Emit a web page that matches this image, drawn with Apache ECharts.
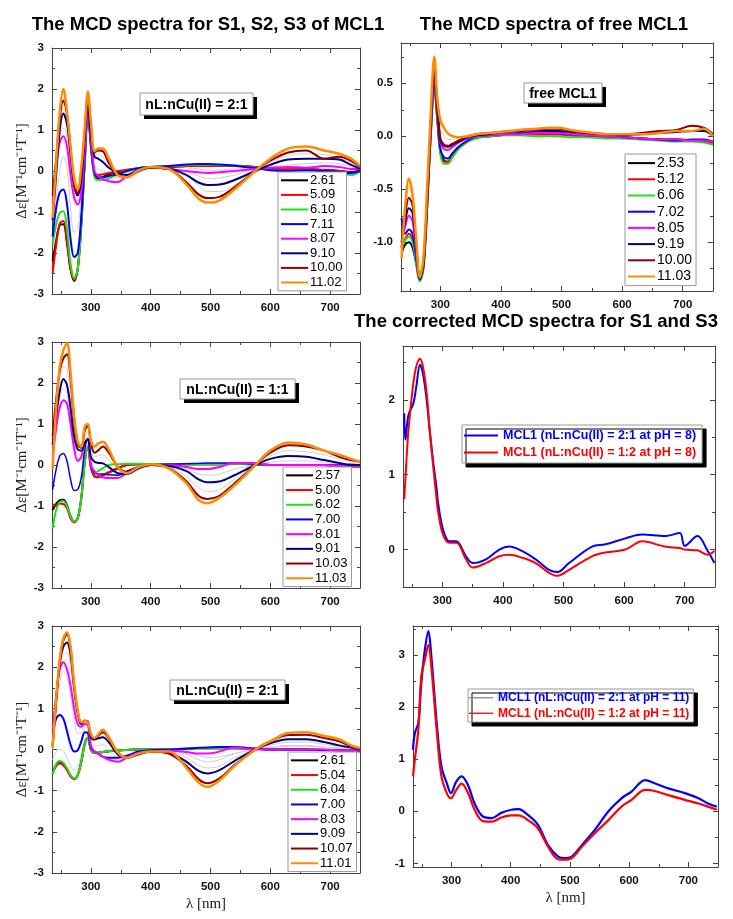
<!DOCTYPE html>
<html>
<head>
<meta charset="utf-8">
<script src="https://cdn.jsdelivr.net/npm/echarts@6/dist/echarts.min.js"></script>
<style>
html, body { margin: 0; background: #fff; }
#chart { width: 733px; height: 919px; }
</style>
</head>
<body>
<div id="chart"></div>
<script>
// wavelength grid (nm) shared by the three titration panels and the free ligand panel
const wl = [236, 242, 248, 254, 260, 266, 272, 278, 284, 290, 295, 300, 306, 312, 320, 330, 345, 360, 380, 400,
            430, 460, 480, 495, 515, 540, 575, 600, 630, 660, 690, 715, 735, 750]

// --- panel 1 : S1 (nL:nCu(II) = 2:1) ---
const tlNames = ['2.61', '5.09', '6.10', '7.11', '8.07', '9.10', '10.00', '11.02']
const tl_261 = [-2.2, -1.7, -1.32, -1.3, -1.75, -2.4, -2.68, -2.4, -1.3, 0.3, 1.5, 0.65, -0.1, -0.2, -0.15, -0.08, -0.03, 0.02, 0.07, 0.1, 0.1, 0.12, 0.12, 0.12, 0.13, 0.13, 0.1, 0.05, 0.03, 0.04, 0.02, 0.0, -0.03, 0.02]
const tl_509 = [-2.5, -1.8, -1.28, -1.22, -1.7, -2.38, -2.65, -2.38, -1.3, 0.3, 1.5, 0.65, -0.05, -0.1, -0.08, -0.05, 0.0, 0.03, 0.07, 0.1, 0.1, 0.12, 0.12, 0.12, 0.13, 0.13, 0.1, 0.05, 0.04, 0.05, 0.02, 0.0, -0.04, 0.02]
const tl_610 = [-1.8, -1.3, -1.02, -0.98, -1.4, -2.25, -2.62, -2.4, -1.3, 0.25, 1.45, 0.6, -0.15, -0.22, -0.22, -0.18, -0.08, 0.0, 0.07, 0.1, 0.12, 0.14, 0.15, 0.15, 0.14, 0.13, 0.08, 0.03, 0.0, 0.02, -0.02, -0.05, -0.1, -0.02]
const tl_711 = [-1.6, -0.9, -0.52, -0.45, -0.8, -1.65, -2.1, -2.0, -1.1, 0.4, 1.55, 0.65, -0.05, -0.15, -0.15, -0.12, -0.08, 0.0, 0.07, 0.1, 0.12, 0.16, 0.17, 0.17, 0.16, 0.13, 0.07, 0.02, 0.0, 0.02, 0.0, -0.02, -0.05, 0.0]
const tl_807 = [-0.8, 0.1, 0.7, 0.85, 0.6, -0.1, -0.65, -0.82, -0.5, 0.55, 1.5, 0.8, 0.0, -0.12, -0.2, -0.25, -0.27, -0.12, 0.02, 0.08, 0.05, 0.0, -0.03, -0.05, -0.03, 0.0, 0.05, 0.08, 0.1, 0.08, 0.12, 0.1, 0.05, 0.05]
const tl_910 = [-1.2, -0.1, 1.0, 1.4, 1.15, 0.4, -0.35, -0.6, -0.2, 0.9, 1.6, 0.9, 0.35, 0.3, 0.22, 0.08, -0.05, -0.1, 0.03, 0.08, 0.06, -0.1, -0.28, -0.34, -0.33, -0.22, 0.0, 0.15, 0.28, 0.3, 0.3, 0.28, 0.15, 0.05]
const tl_1000 = [-0.6, 0.3, 1.3, 1.72, 1.4, 0.55, -0.3, -0.55, 0.0, 1.0, 1.9, 1.1, 0.45, 0.5, 0.48, 0.2, -0.08, -0.15, 0.0, 0.08, 0.05, -0.28, -0.57, -0.66, -0.63, -0.4, 0.0, 0.25, 0.45, 0.5, 0.3, 0.35, 0.25, 0.1]
const tl_1102 = [-1.15, 0.2, 1.45, 2.0, 1.45, 0.6, -0.17, -0.45, 0.1, 1.1, 1.93, 1.2, 0.48, 0.55, 0.55, 0.3, -0.1, -0.15, 0.02, 0.1, 0.05, -0.33, -0.67, -0.77, -0.72, -0.45, 0.0, 0.3, 0.55, 0.6, 0.5, 0.42, 0.3, 0.12]
const tl_grayA = [-1.7, -0.7, 0.0, 0.35, 0.1, -0.9, -1.5, -1.4, -0.6, 0.5, 1.5, 0.6, -0.05, -0.15, -0.18, -0.2, -0.15, -0.05, 0.05, 0.1, 0.1, 0.08, 0.05, 0.02, 0.02, 0.05, 0.05, 0.05, 0.05, 0.06, 0.05, 0.02, 0.0, 0.0]
const tl_grayB = [-1.0, -0.1, 0.8, 1.05, 0.85, 0.1, -0.55, -0.75, -0.3, 0.7, 1.55, 0.75, 0.15, 0.05, 0.0, -0.08, -0.15, -0.1, 0.02, 0.08, 0.06, -0.02, -0.12, -0.18, -0.17, -0.1, 0.02, 0.1, 0.15, 0.18, 0.2, 0.18, 0.1, 0.04]
const tl_grayC = [-0.9, 0.1, 1.15, 1.55, 1.3, 0.45, -0.4, -0.58, -0.1, 0.85, 1.75, 0.85, 0.4, 0.4, 0.35, 0.15, -0.06, -0.12, 0.02, 0.08, 0.05, -0.1, -0.35, -0.5, -0.5, -0.35, 0.0, 0.2, 0.38, 0.42, 0.4, 0.32, 0.2, 0.06]

// --- panel 2 : free MCL1 ---
const trNames = ['2.53', '5.12', '6.06', '7.02', '8.05', '9.19', '10.00', '11.03']
const tr_253 = [-1.1, -1.02, -1.0, -1.05, -1.2, -1.36, -1.24, -0.68, 0.0, 0.48, 0.16, -0.15, -0.23, -0.24, -0.18, -0.11, -0.05, -0.01, 0.0, 0.01, 0.02, 0.02, 0.02, 0.02, 0.01, 0.0, -0.01, -0.01, -0.02, -0.03, -0.03, -0.04, -0.05, -0.06]
const tr_512 = [-1.05, -0.97, -0.92, -0.98, -1.18, -1.36, -1.24, -0.68, 0.0, 0.47, 0.16, -0.15, -0.24, -0.24, -0.18, -0.11, -0.05, -0.01, 0.0, 0.01, 0.02, 0.02, 0.02, 0.02, 0.01, 0.0, -0.01, -0.01, -0.02, -0.03, -0.03, -0.04, -0.05, -0.06]
const tr_606 = [-1.05, -0.98, -0.95, -1.0, -1.2, -1.37, -1.25, -0.7, 0.0, 0.45, 0.15, -0.17, -0.26, -0.26, -0.2, -0.12, -0.05, -0.02, 0.0, 0.01, 0.01, 0.0, 0.0, 0.0, -0.01, -0.01, -0.02, -0.02, -0.03, -0.04, -0.05, -0.05, -0.06, -0.08]
const tr_702 = [-0.77, -0.92, -0.88, -0.92, -1.15, -1.35, -1.22, -0.65, 0.05, 0.5, 0.2, -0.12, -0.2, -0.21, -0.16, -0.1, -0.04, 0.0, 0.01, 0.02, 0.03, 0.04, 0.04, 0.03, 0.02, 0.01, 0.0, -0.01, -0.02, -0.03, -0.04, -0.03, -0.03, -0.05]
const tr_805 = [-1.0, -0.85, -0.75, -0.8, -1.1, -1.33, -1.2, -0.62, 0.05, 0.55, 0.25, -0.06, -0.12, -0.13, -0.1, -0.06, -0.02, 0.0, 0.01, 0.02, 0.02, 0.03, 0.03, 0.03, 0.02, 0.01, 0.0, -0.01, -0.02, -0.03, -0.03, -0.04, -0.04, -0.05]
const tr_919 = [-1.0, -0.8, -0.68, -0.72, -1.05, -1.33, -1.2, -0.6, 0.1, 0.6, 0.3, -0.04, -0.09, -0.1, -0.08, -0.05, -0.01, 0.01, 0.02, 0.04, 0.05, 0.06, 0.05, 0.05, 0.04, 0.03, 0.02, 0.01, 0.02, 0.03, 0.04, 0.05, 0.05, 0.0]
const tr_1000 = [-1.05, -0.75, -0.58, -0.65, -1.0, -1.33, -1.2, -0.6, 0.1, 0.65, 0.3, -0.02, -0.08, -0.09, -0.07, -0.04, 0.0, 0.02, 0.03, 0.04, 0.05, 0.06, 0.07, 0.07, 0.05, 0.03, 0.02, 0.02, 0.03, 0.05, 0.06, 0.1, 0.08, 0.02]
const tr_1103 = [-1.15, -0.65, -0.4, -0.55, -0.97, -1.33, -1.15, -0.5, 0.2, 0.75, 0.35, 0.15, 0.08, 0.03, 0.0, -0.01, 0.0, 0.02, 0.03, 0.04, 0.06, 0.07, 0.08, 0.08, 0.06, 0.04, 0.02, 0.02, 0.02, 0.03, 0.05, 0.05, 0.07, 0.0]
const tr_grayA = [-1.1, -0.7, -0.48, -0.6, -0.98, -1.32, -1.17, -0.55, 0.15, 0.7, 0.32, 0.07, 0.0, -0.03, -0.03, -0.02, 0.0, 0.02, 0.03, 0.04, 0.05, 0.06, 0.07, 0.07, 0.05, 0.03, 0.02, 0.02, 0.02, 0.03, 0.04, 0.05, 0.05, 0.0]

// --- panel 3 : S2 (nL:nCu(II) = 1:1) ---
const mlNames = ['2.57', '5.00', '6.02', '7.00', '8.01', '9.01', '10.03', '11.03']
const ml_257 = [-1.1, -0.95, -0.86, -0.85, -0.98, -1.25, -1.38, -1.3, -0.8, 0.1, 0.45, -0.05, -0.28, -0.3, -0.25, -0.18, -0.08, 0.0, 0.02, 0.02, 0.02, 0.02, 0.02, 0.02, 0.02, 0.03, 0.02, 0.0, 0.0, 0.0, 0.0, -0.02, -0.03, -0.05]
const ml_500 = [-0.95, -1.0, -0.94, -0.95, -1.05, -1.3, -1.4, -1.3, -0.8, 0.1, 0.45, -0.05, -0.28, -0.3, -0.25, -0.18, -0.08, 0.0, 0.02, 0.02, 0.02, 0.02, 0.02, 0.02, 0.02, 0.03, 0.02, 0.0, 0.0, 0.0, 0.0, -0.02, -0.03, -0.05]
const ml_602 = [-1.55, -1.1, -0.9, -0.88, -1.0, -1.25, -1.38, -1.3, -0.8, 0.1, 0.45, 0.0, -0.2, -0.15, -0.08, 0.0, 0.02, 0.03, 0.03, 0.02, 0.02, 0.02, 0.02, 0.02, 0.02, 0.03, 0.02, 0.0, 0.0, 0.0, 0.0, -0.02, -0.03, -0.05]
const ml_700 = [-0.6, -0.1, 0.22, 0.28, 0.1, -0.35, -0.62, -0.6, -0.3, 0.4, 0.65, 0.0, -0.2, -0.22, -0.22, -0.24, -0.25, -0.15, -0.05, 0.0, 0.02, 0.03, 0.04, 0.05, 0.05, 0.05, 0.02, 0.0, 0.0, 0.0, 0.0, 0.0, 0.02, 0.0]
const ml_801 = [0.2, 0.9, 1.4, 1.58, 1.5, 1.0, 0.4, 0.1, 0.2, 0.55, 0.6, 0.0, -0.15, -0.25, -0.3, -0.32, -0.32, -0.2, -0.05, 0.0, 0.0, -0.05, -0.1, -0.1, -0.05, 0.05, 0.05, 0.0, 0.0, 0.0, 0.0, -0.02, -0.02, -0.05]
const ml_901 = [0.5, 1.2, 1.8, 2.1, 1.95, 1.4, 0.7, 0.38, 0.35, 0.55, 0.62, 0.2, 0.08, 0.05, 0.04, -0.05, -0.2, -0.22, -0.08, 0.0, -0.02, -0.15, -0.35, -0.42, -0.4, -0.25, 0.0, 0.15, 0.22, 0.2, 0.12, 0.05, 0.0, 0.0]
const ml_1003 = [0.7, 1.6, 2.3, 2.6, 2.7, 2.1, 1.1, 0.5, 0.42, 0.85, 0.95, 0.55, 0.3, 0.35, 0.45, 0.3, -0.05, -0.17, -0.05, 0.0, -0.07, -0.4, -0.75, -0.83, -0.75, -0.45, 0.0, 0.3, 0.48, 0.45, 0.35, 0.2, 0.12, 0.08]
const ml_1103 = [-0.1, 1.4, 2.4, 2.8, 2.97, 2.25, 1.2, 0.57, 0.45, 0.95, 1.0, 0.6, 0.45, 0.52, 0.57, 0.38, -0.05, -0.2, -0.05, 0.02, -0.08, -0.45, -0.85, -0.93, -0.8, -0.5, 0.0, 0.35, 0.55, 0.5, 0.35, 0.25, 0.15, 0.08]
const ml_grayA = [0.3, 1.1, 1.65, 1.85, 1.75, 1.2, 0.55, 0.25, 0.28, 0.55, 0.6, 0.1, -0.05, -0.1, -0.12, -0.18, -0.25, -0.2, -0.06, 0.0, 0.0, -0.1, -0.22, -0.25, -0.22, -0.1, 0.0, 0.07, 0.1, 0.1, 0.06, 0.02, 0.0, -0.02]
const ml_grayB = [0.55, 1.4, 2.1, 2.4, 2.35, 1.75, 0.9, 0.45, 0.4, 0.7, 0.8, 0.4, 0.2, 0.22, 0.25, 0.12, -0.12, -0.2, -0.06, 0.0, -0.04, -0.28, -0.55, -0.65, -0.6, -0.35, 0.0, 0.22, 0.35, 0.32, 0.25, 0.14, 0.08, 0.04]

// --- panel 5 : S3 (nL:nCu(II) = 2:1) ---
const blNames = ['2.61', '5.04', '6.04', '7.00', '8.03', '9.09', '10.07', '11.01']
const bl_261 = [-0.55, -0.38, -0.32, -0.36, -0.48, -0.64, -0.71, -0.62, -0.3, 0.15, 0.28, 0.0, -0.08, -0.08, -0.06, -0.04, -0.02, -0.01, 0.0, 0.0, 0.01, 0.02, 0.03, 0.03, 0.03, 0.03, 0.02, 0.0, 0.0, 0.0, -0.01, -0.02, -0.03, -0.04]
const bl_504 = [-0.6, -0.4, -0.34, -0.38, -0.5, -0.65, -0.72, -0.63, -0.3, 0.15, 0.28, 0.0, -0.08, -0.08, -0.06, -0.04, -0.02, -0.01, 0.0, 0.0, 0.01, 0.02, 0.03, 0.03, 0.03, 0.03, 0.02, 0.0, 0.0, 0.0, -0.01, -0.02, -0.03, -0.04]
const bl_604 = [-0.6, -0.35, -0.28, -0.32, -0.45, -0.62, -0.7, -0.62, -0.3, 0.15, 0.28, 0.0, -0.08, -0.08, -0.06, -0.04, -0.02, -0.01, 0.0, 0.0, 0.01, 0.02, 0.03, 0.03, 0.03, 0.03, 0.02, 0.0, 0.0, 0.0, -0.01, -0.02, -0.03, -0.04]
const bl_700 = [0.4, 0.75, 0.84, 0.75, 0.45, 0.12, -0.05, -0.02, 0.2, 0.42, 0.4, 0.05, -0.05, -0.1, -0.18, -0.2, -0.2, -0.15, -0.05, -0.02, 0.0, 0.02, 0.04, 0.05, 0.06, 0.06, 0.02, 0.0, 0.0, 0.0, -0.02, -0.02, -0.02, -0.03]
const bl_803 = [0.45, 1.3, 1.95, 2.12, 1.95, 1.55, 1.0, 0.62, 0.55, 0.62, 0.6, 0.1, -0.05, -0.1, -0.17, -0.25, -0.3, -0.2, -0.08, -0.05, -0.03, -0.06, -0.1, -0.1, -0.05, 0.05, 0.0, 0.0, 0.0, 0.0, 0.0, -0.02, -0.02, -0.03]
const bl_909 = [0.1, 1.2, 2.1, 2.5, 2.6, 2.3, 1.5, 0.9, 0.62, 0.7, 0.68, 0.3, 0.24, 0.27, 0.3, 0.18, -0.12, -0.2, -0.12, -0.05, -0.08, -0.3, -0.52, -0.58, -0.5, -0.28, 0.0, 0.15, 0.25, 0.25, 0.18, 0.1, 0.05, 0.0]
const bl_1007 = [0.05, 1.2, 2.15, 2.65, 2.8, 2.45, 1.55, 0.92, 0.65, 0.7, 0.65, 0.37, 0.27, 0.33, 0.42, 0.27, -0.07, -0.2, -0.1, -0.05, -0.1, -0.4, -0.72, -0.82, -0.7, -0.38, 0.0, 0.2, 0.35, 0.36, 0.28, 0.2, 0.08, 0.03]
const bl_1101 = [0.05, 1.25, 2.2, 2.7, 2.85, 2.5, 1.6, 0.95, 0.66, 0.7, 0.65, 0.38, 0.28, 0.36, 0.48, 0.3, -0.07, -0.2, -0.1, -0.05, -0.05, -0.45, -0.8, -0.91, -0.75, -0.4, 0.0, 0.2, 0.4, 0.42, 0.33, 0.25, 0.1, 0.03]
const bl_grayA = [-0.25, -0.05, 0.0, -0.05, -0.2, -0.4, -0.5, -0.42, -0.1, 0.25, 0.32, 0.0, -0.06, -0.08, -0.08, -0.06, -0.04, -0.02, 0.0, 0.0, 0.0, -0.05, -0.15, -0.2, -0.18, -0.1, 0.0, 0.05, 0.08, 0.08, 0.05, 0.02, 0.0, -0.02]
const bl_grayB = [0.0, 0.9, 1.6, 1.9, 1.75, 1.3, 0.75, 0.4, 0.4, 0.55, 0.55, 0.05, -0.05, -0.12, -0.18, -0.22, -0.25, -0.18, -0.06, -0.03, -0.03, -0.12, -0.25, -0.3, -0.25, -0.1, 0.0, 0.05, 0.1, 0.1, 0.06, 0.03, 0.0, -0.02]
const bl_grayC = [0.2, 1.1, 1.9, 2.3, 2.35, 2.0, 1.3, 0.8, 0.6, 0.65, 0.62, 0.2, 0.1, 0.1, 0.12, 0.0, -0.2, -0.2, -0.1, -0.05, -0.05, -0.2, -0.38, -0.45, -0.4, -0.2, 0.0, 0.1, 0.18, 0.18, 0.12, 0.06, 0.03, 0.0]

// --- panel 4 : corrected spectra, pH 8 ---
const mrWl = [237, 239, 244, 252, 257, 263, 268, 274, 279, 285, 290, 293, 301, 312, 323, 339, 350, 372, 394, 410,
              432, 454, 476, 490, 509, 547, 569, 602, 630, 667, 692, 700, 721, 738, 749]
const mr_21 = [1.82, 1.47, 1.8, 1.95, 2.18, 2.47, 2.35, 2.0, 1.6, 1.16, 0.85, 0.62, 0.27, 0.11, 0.11, -0.09, -0.18, -0.13, 0.0, 0.04,
               -0.02, -0.13, -0.27, -0.3, -0.18, 0.04, 0.07, 0.15, 0.2, 0.18, 0.22, 0.05, 0.18, -0.02, -0.18]
const mr_12 = [0.67, 0.95, 1.6, 2.22, 2.45, 2.55, 2.44, 2.1, 1.6, 1.1, 0.71, 0.5, 0.2, 0.09, 0.09, -0.13, -0.24, -0.18, -0.09, -0.07,
               -0.11, -0.18, -0.31, -0.35, -0.27, -0.09, -0.04, 0.0, 0.11, 0.04, 0.02, 0.0, -0.01, -0.07, -0.02]

// --- panel 6 : corrected spectra, pH 11 ---
const brWl = [235, 238, 244, 249, 255, 261, 266, 275, 283, 292, 299, 308, 317, 328, 339, 353, 368, 384, 401, 413,
              429, 446, 463, 480, 491, 503, 520, 542, 565, 587, 604, 627, 643, 666, 694, 717, 733, 748]
const br_21 = [1.18, 1.5, 1.7, 2.46, 3.1, 3.46, 2.97, 1.7, 0.86, 0.54, 0.35, 0.57, 0.67, 0.5, 0.15, -0.1, -0.13, -0.03, 0.03, 0.04,
               -0.07, -0.26, -0.65, -0.87, -0.9, -0.87, -0.65, -0.36, 0.0, 0.25, 0.38, 0.6, 0.54, 0.44, 0.35, 0.25, 0.15, 0.09]
const br_12 = [0.67, 0.99, 1.56, 2.59, 2.91, 3.2, 2.78, 1.56, 0.67, 0.35, 0.25, 0.41, 0.53, 0.35, 0.03, -0.19, -0.2, -0.12, -0.08, -0.08,
               -0.17, -0.33, -0.68, -0.92, -0.93, -0.9, -0.68, -0.42, -0.17, 0.09, 0.22, 0.41, 0.39, 0.31, 0.22, 0.15, 0.09, 0.03]

// tick values
const xMajor = [300, 400, 500, 600, 700]
const xMinor = [250, 350, 450, 550, 650, 750]
const yMajor3 = [-3, -2, -1, 0, 1, 2, 3]
const yMinor3 = [-2.5, -1.5, -0.5, 0.5, 1.5, 2.5]
const yMajorFree = [-1, -0.5, 0, 0.5]
const yMinorFree = [-1.25, -0.75, -0.25, 0.25, 0.75]
const yMajorPH8 = [0, 1, 2]
const yMinorPH8 = [-0.5, 0.5, 1.5, 2.5]
const yMajorPH11 = [-1, 0, 1, 2, 3]
const yMinorPH11 = [-0.5, 0.5, 1.5, 2.5, 3.5]

const phColors = ['#000000', '#ff0000', '#1ee01e', '#0000ff', '#ff00ff', '#000080', '#8b0000', '#ff8c00']
const grayColor = '#cfcfcf'
const sans = 'Liberation Sans, Arial, sans-serif'
const serif = 'Liberation Serif, Times New Roman, serif'
const yName = 'Δε[M⁻¹cm⁻¹T⁻¹]'

const panels = [
    { grid: { left: 52, top: 48, width: 308, height: 246 }, ymin: -3, ymax: 3, yMaj: yMajor3, yMin: yMinor3, yFmt: v => String(v), yName: true, xName: false },
    { grid: { left: 401, top: 43, width: 312, height: 248 }, ymin: -1.46, ymax: 0.88, yMaj: yMajorFree, yMin: yMinorFree, yFmt: v => v.toFixed(1), yName: false, xName: false },
    { grid: { left: 52, top: 342, width: 308, height: 246 }, ymin: -3, ymax: 3, yMaj: yMajor3, yMin: yMinor3, yFmt: v => String(v), yName: true, xName: false },
    { grid: { left: 403, top: 346, width: 312, height: 241 }, ymin: -0.5, ymax: 2.72, yMaj: yMajorPH8, yMin: yMinorPH8, yFmt: v => String(v), yName: false, xName: false },
    { grid: { left: 52, top: 626, width: 308, height: 247 }, ymin: -3, ymax: 3, yMaj: yMajor3, yMin: yMinor3, yFmt: v => String(v), yName: true, xName: true },
    { grid: { left: 413, top: 626, width: 305, height: 241 }, ymin: -1.07, ymax: 3.56, yMaj: yMajorPH11, yMin: yMinorPH11, yFmt: v => String(v), yName: false, xName: true }
]

const frame = { color: '#444', width: 1 }
const labelStyle = { color: '#111', fontFamily: sans, fontWeight: 'bold', fontSize: 11.5 }

const xAxes = []
const yAxes = []
panels.forEach((p, gi) => {
    const xb = { type: 'value', gridIndex: gi, min: 235, max: 750, splitLine: { show: false } }
    const yb = { type: 'value', gridIndex: gi, min: p.ymin, max: p.ymax, splitLine: { show: false } }
    // bottom, with labels
    xAxes.push(Object.assign({}, xb, {
        position: 'bottom',
        axisLine: { show: true, onZero: false, lineStyle: frame },
        axisTick: { inside: true, length: 5, customValues: xMajor, lineStyle: frame },
        axisLabel: Object.assign({ customValues: xMajor, margin: 8 }, labelStyle),
        name: p.xName ? 'λ [nm]' : '',
        nameLocation: 'middle',
        nameGap: 24,
        nameTextStyle: { fontFamily: serif, fontSize: 15, color: '#222' }
    }))
    xAxes.push(Object.assign({}, xb, {
        position: 'bottom', axisLine: { show: false, onZero: false },
        axisTick: { inside: true, length: 3, customValues: xMinor, lineStyle: frame },
        axisLabel: { show: false }
    }))
    xAxes.push(Object.assign({}, xb, {
        position: 'top', axisLine: { show: true, onZero: false, lineStyle: frame },
        axisTick: { inside: true, length: 5, customValues: xMajor, lineStyle: frame },
        axisLabel: { show: false }
    }))
    xAxes.push(Object.assign({}, xb, {
        position: 'top', axisLine: { show: false, onZero: false },
        axisTick: { inside: true, length: 3, customValues: xMinor, lineStyle: frame },
        axisLabel: { show: false }
    }))
    // left, with labels
    yAxes.push(Object.assign({}, yb, {
        position: 'left',
        axisLine: { show: true, onZero: false, lineStyle: frame },
        axisTick: { inside: true, length: 5, customValues: p.yMaj, lineStyle: frame },
        axisLabel: Object.assign({ customValues: p.yMaj, margin: 8, formatter: p.yFmt }, labelStyle),
        name: p.yName ? yName : '',
        nameLocation: 'middle',
        nameGap: 21,
        nameTextStyle: { fontFamily: serif, fontSize: 15, color: '#222' }
    }))
    yAxes.push(Object.assign({}, yb, {
        position: 'left', axisLine: { show: false, onZero: false },
        axisTick: { inside: true, length: 3, customValues: p.yMin, lineStyle: frame },
        axisLabel: { show: false }
    }))
    yAxes.push(Object.assign({}, yb, {
        position: 'right', axisLine: { show: true, onZero: false, lineStyle: frame },
        axisTick: { inside: true, length: 5, customValues: p.yMaj, lineStyle: frame },
        axisLabel: { show: false }
    }))
    yAxes.push(Object.assign({}, yb, {
        position: 'right', axisLine: { show: false, onZero: false },
        axisTick: { inside: true, length: 3, customValues: p.yMin, lineStyle: frame },
        axisLabel: { show: false }
    }))
})

const pairs = (xs, ys) => xs.map((x, i) => [x, ys[i]])

const lineSeries = (gi, name, xs, ys, color, width) => ({
    type: 'line',
    name: name,
    xAxisIndex: gi * 4,
    yAxisIndex: gi * 4,
    data: pairs(xs, ys),
    smooth: 0.35,
    symbol: 'none',
    lineStyle: { color: color, width: width },
    itemStyle: { color: color },
    z: 3
})

const grayLine = (gi, xs, ys) => Object.assign(lineSeries(gi, '', xs, ys, grayColor, 1), { z: 2, silent: true })

const series = []
// titration panels: gray intermediate spectra first, then coloured ones
;[tl_grayA, tl_grayB, tl_grayC].forEach(d => series.push(grayLine(0, wl, d)))
;[tl_261, tl_509, tl_610, tl_711, tl_807, tl_910, tl_1000, tl_1102].forEach((d, i) =>
    series.push(lineSeries(0, tlNames[i], wl, d, phColors[i], i === 7 ? 2.5 : 2)))

series.push(grayLine(1, wl, tr_grayA))
;[tr_253, tr_512, tr_606, tr_702, tr_805, tr_919, tr_1000, tr_1103].forEach((d, i) =>
    series.push(lineSeries(1, trNames[i], wl, d, phColors[i], i === 7 ? 2.5 : 2)))

;[ml_grayA, ml_grayB].forEach(d => series.push(grayLine(2, wl, d)))
;[ml_257, ml_500, ml_602, ml_700, ml_801, ml_901, ml_1003, ml_1103].forEach((d, i) =>
    series.push(lineSeries(2, mlNames[i], wl, d, phColors[i], i === 7 ? 2.5 : (i === 3 ? 1.5 : 2))))

series.push(lineSeries(3, 'MCL1 (nL:nCu(II) = 2:1 at pH = 8)', mrWl, mr_21, '#0000ff', 2))
series.push(lineSeries(3, 'MCL1 (nL:nCu(II) = 1:2 at pH = 8)', mrWl, mr_12, '#ff0000', 2))

;[bl_grayA, bl_grayB, bl_grayC].forEach(d => series.push(grayLine(4, wl, d)))
;[bl_261, bl_504, bl_604, bl_700, bl_803, bl_909, bl_1007, bl_1101].forEach((d, i) =>
    series.push(lineSeries(4, blNames[i], wl, d, phColors[i], i === 7 ? 2.5 : 2)))

series.push(lineSeries(5, 'MCL1 (nL:nCu(II) = 2:1 at pH = 11)', brWl, br_21, '#0000ff', 2.2))
series.push(lineSeries(5, 'MCL1 (nL:nCu(II) = 1:2 at pH = 11)', brWl, br_12, '#ff0000', 2.2))

const phLegend = (names, left, top, lh, size) => ({
    data: names,
    orient: 'vertical',
    left: left,
    top: top,
    icon: 'rect',
    itemWidth: 27,
    itemHeight: 2,
    itemGap: 0,
    padding: [1, 4, 1, 3],
    backgroundColor: '#fff',
    borderColor: '#999',
    borderWidth: 1,
    borderRadius: 0,
    selectedMode: false,
    textStyle: { fontFamily: sans, fontSize: size, lineHeight: lh, color: '#000', padding: [0, 0, 0, -3] }
})

const compLegend = (names, left, top, lh, thin) => ({
    data: [
        { name: names[0], textStyle: { color: '#0000ff' }, itemStyle: { color: thin ? '#888888' : '#0000ff' } },
        { name: names[1], textStyle: { color: '#ff0000' }, itemStyle: { color: '#ff0000' } }
    ],
    orient: 'vertical',
    left: left,
    top: top,
    icon: 'rect',
    itemWidth: thin ? 24 : 34,
    itemHeight: thin ? 1.3 : 2.2,
    itemGap: 0,
    padding: thin ? [1, 4, 1, 1] : [2, 6, 2, 2],
    backgroundColor: '#fff',
    borderColor: '#999',
    borderWidth: 1,
    borderRadius: 0,
    shadowColor: '#000',
    shadowOffsetX: 4,
    shadowOffsetY: 4,
    shadowBlur: 0,
    selectedMode: false,
    textStyle: { fontFamily: sans, fontSize: thin ? 12 : 12.5, lineHeight: lh, fontWeight: 'bold' }
})

const labelBox = (x, y, w, h, text) => ({
    type: 'group',
    x: x,
    y: y,
    z: 100,
    children: [
        { type: 'rect', shape: { x: 4, y: 4, width: w, height: h }, style: { fill: '#000' } },
        { type: 'rect', shape: { x: 0, y: 0, width: w, height: h }, style: { fill: '#fff', stroke: '#999', lineWidth: 1 } },
        { type: 'text', x: w / 2, y: h / 2 + 1, style: { text: text, font: 'bold 14px ' + sans, fill: '#000', align: 'center', verticalAlign: 'middle', textAlign: 'center', textVerticalAlign: 'middle' } }
    ]
})

const titleText = (x, y, text) => ({
    type: 'text',
    x: x,
    y: y,
    style: { text: text, font: 'bold 18.5px ' + sans, fill: '#000', align: 'center', verticalAlign: 'middle', textAlign: 'center', textVerticalAlign: 'middle' }
})

const option = {
    animation: false,
    backgroundColor: '#fff',
    grid: panels.map(p => Object.assign({ containLabel: false, show: false }, p.grid)),
    xAxis: xAxes,
    yAxis: yAxes,
    legend: [
        phLegend(tlNames, 278, 172, 14.6, 13),
        phLegend(trNames, 625, 154, 16.2, 14),
        phLegend(mlNames, 283, 467, 14.7, 13),
        phLegend(blNames, 288, 752, 14.7, 13),
        compLegend(['MCL1 (nL:nCu(II) = 2:1 at pH = 8)', 'MCL1 (nL:nCu(II) = 1:2 at pH = 8)'], 462, 425, 17, false),
        compLegend(['MCL1 (nL:nCu(II) = 2:1 at pH = 11)', 'MCL1 (nL:nCu(II) = 1:2 at pH = 11)'], 468, 689, 15.5, true)
    ],
    graphic: [
        titleText(208, 25, 'The MCD spectra for S1, S2, S3 of MCL1'),
        titleText(554, 25, 'The MCD spectra of free MCL1'),
        titleText(536, 322, 'The corrected MCD spectra for S1 and S3'),
        labelBox(140, 93, 113, 22, 'nL:nCu(II) = 2:1'),
        labelBox(524, 83, 78, 20, 'free MCL1'),
        labelBox(180, 379, 115, 20, 'nL:nCu(II) = 1:1'),
        labelBox(170, 680, 115, 20, 'nL:nCu(II) = 2:1')
    ],
    series: series
}

const chart = echarts.init(document.getElementById('chart'))
chart.setOption(option)
</script>
</body>
</html>
